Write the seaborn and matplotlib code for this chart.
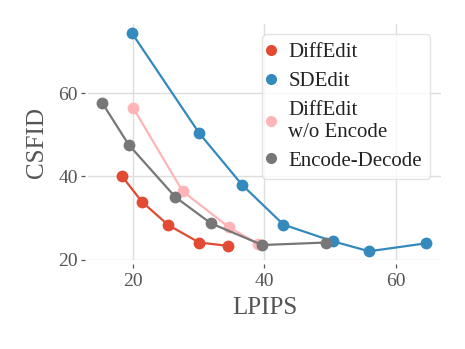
import pandas as pd
import matplotlib.pyplot as plt
import seaborn as sns
from matplotlib.lines import Line2D


# ==========================================
# DATA
# ==========================================

methods = ["DiffEdit", "SDEdit", "DiffEdit\nw/o Encode", "Encode-Decode"]
colors = ["#E24A33", "#348ABD", "#FFB5B8", "#777777"]

diffedit_lpips = [18.4, 21.4, 25.4, 30.1, 34.5]
diffedit_csfid = [40.0, 33.9, 28.3, 24.1, 23.3]

sdedit_lpips = [19.9, 30.1, 36.6, 42.9, 50.4, 55.9, 64.5]
sdedit_csfid = [74.4, 50.4, 38.0, 28.4, 24.4, 22.0, 23.9]

noenc_lpips = [20.1, 27.6, 34.6, 39.0]
noenc_csfid = [56.4, 36.4, 27.8, 23.8]

encdec_lpips = [15.4, 19.4, 26.5, 31.9, 39.7, 49.3]
encdec_csfid = [57.6, 47.6, 35.0, 28.7, 23.5, 24.1]

series = [
    (diffedit_lpips, diffedit_csfid),
    (sdedit_lpips, sdedit_csfid),
    (noenc_lpips, noenc_csfid),
    (encdec_lpips, encdec_csfid),
]

x_ticks = [20, 40, 60]
y_ticks = [20, 40, 60]


# ==========================================
# STYLE
# ==========================================

sns.set_theme(style="whitegrid")
plt.rcParams["font.family"] = ["Liberation Serif", "DejaVu Serif"]
plt.rcParams["text.color"] = "#555555"
plt.rcParams["axes.labelcolor"] = "#555555"
plt.rcParams["xtick.color"] = "#555555"
plt.rcParams["ytick.color"] = "#555555"


# ==========================================
# PLOT
# ==========================================

fig = plt.figure(figsize=(4.65, 3.49), dpi=100)
ax = fig.add_axes([0.189, 0.255, 0.759, 0.676])

for (xs, ys), name, c in zip(series, methods, colors):
    df = pd.DataFrame({"LPIPS": xs, "CSFID": ys})
    sns.lineplot(
        data=df,
        x="LPIPS",
        y="CSFID",
        color=c,
        marker="o",
        markersize=8.5,
        markeredgewidth=0,
        linewidth=1.6,
        ax=ax,
    )

ax.set_xlim(13.2, 66.8)
ax.set_ylim(19.9, 76.6)
ax.set_xticks(x_ticks)
ax.set_yticks(y_ticks)

ax.grid(True, color="#dddddd", linewidth=1.0)
for side in ["top", "right", "left", "bottom"]:
    ax.spines[side].set_visible(False)
ax.spines["left"].set_position(("outward", 2.2))
ax.spines["bottom"].set_position(("outward", 2.8))

ax.tick_params(axis="both", which="major", labelsize=14, length=3, width=0.9,
               direction="out", left=True, bottom=True)
ax.tick_params(axis="x", pad=3.5)
ax.tick_params(axis="y", pad=2)

ax.set_xlabel("LPIPS", fontsize=18, labelpad=5)
ax.set_ylabel("CSFID", fontsize=18, labelpad=7.5)

handles = [
    Line2D([], [], color=c, marker="o", linestyle="none", markersize=8,
           markeredgewidth=0)
    for c in colors
]
leg = ax.legend(
    handles,
    methods,
    loc="upper right",
    fontsize=15,
    handlelength=0.05,
    handletextpad=0.8,
    labelspacing=0.45,
    frameon=True,
    framealpha=0.8,
    fancybox=True,
)
leg.get_frame().set_edgecolor("#dddddd")
for t in leg.get_texts():
    t.set_color("#222222")

plt.savefig("out.png", dpi=100)
